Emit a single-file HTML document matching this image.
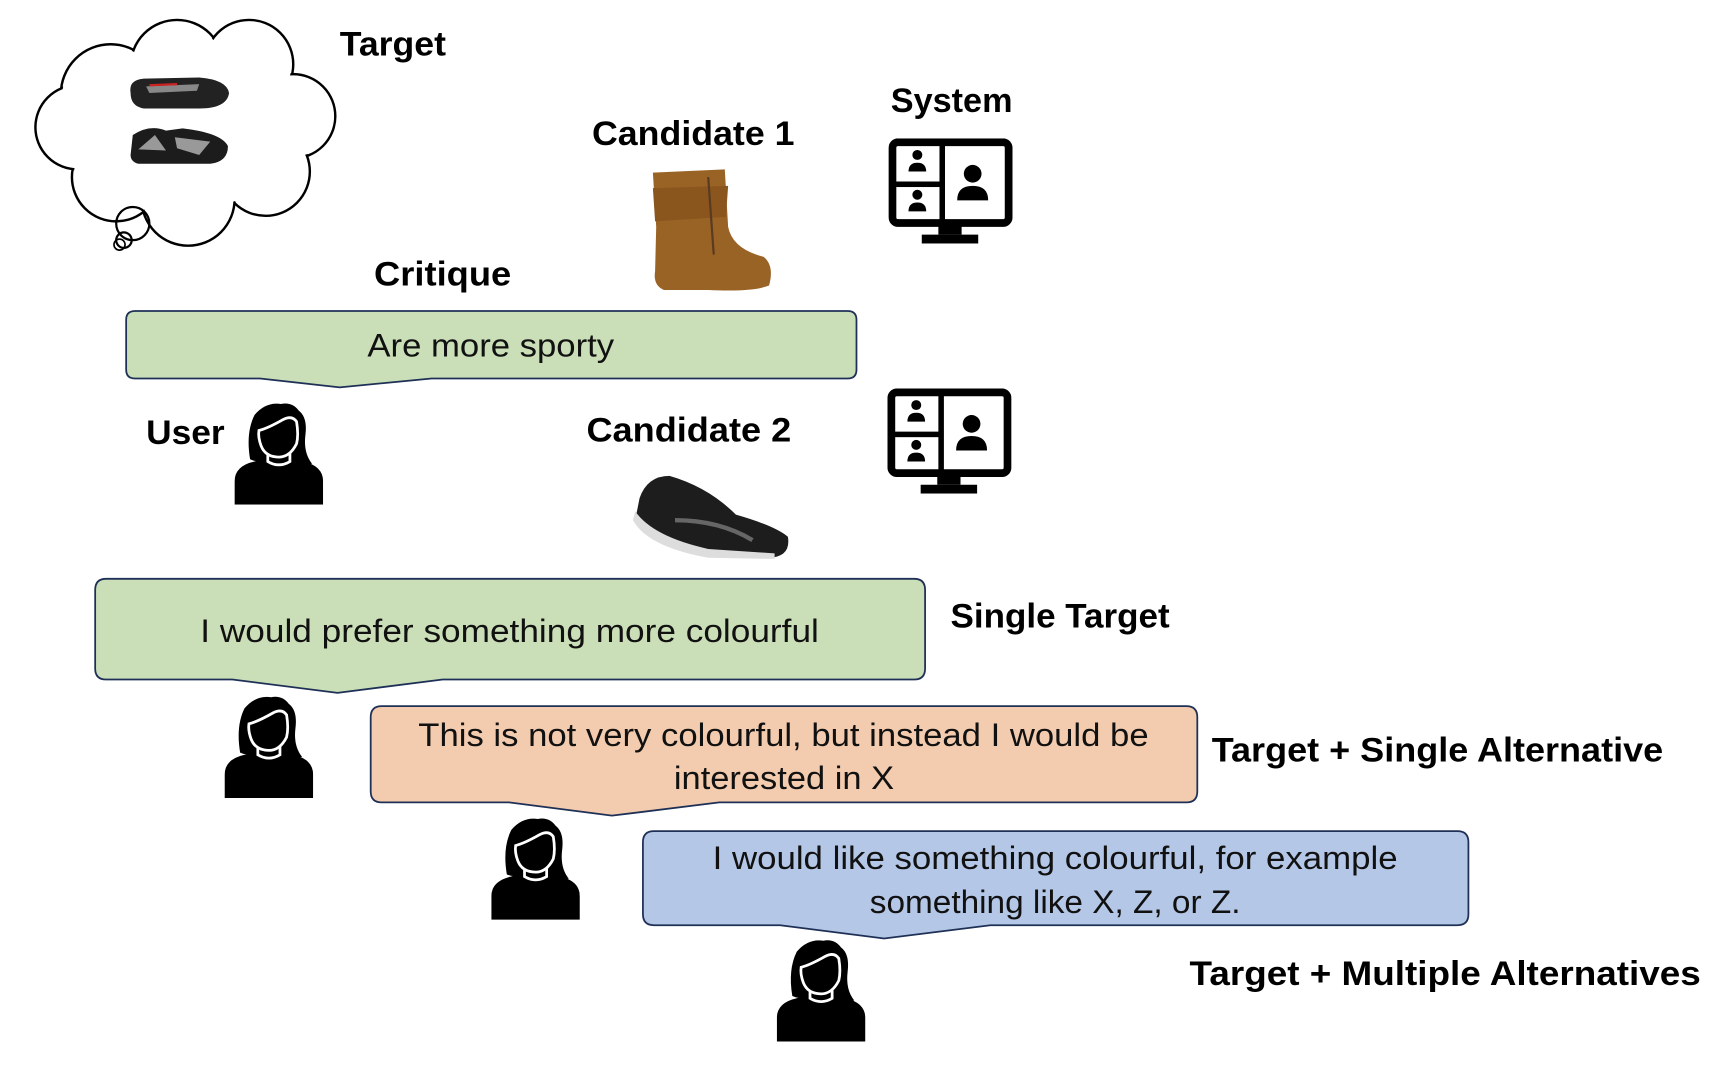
<!DOCTYPE html>
<html><head><meta charset="utf-8"><style>
html,body{margin:0;padding:0;background:#fff;width:1734px;height:1068px;overflow:hidden}
svg{display:block}
.b{font-family:"Liberation Sans",sans-serif;font-weight:bold;font-size:31px;fill:#000}
.t{font-family:"Liberation Sans",sans-serif;font-size:29px;fill:#111}
</style></head><body>
<svg width="1734" height="1068" viewBox="0 0 1567 965" preserveAspectRatio="none" xmlns="http://www.w3.org/2000/svg">
<defs>
<symbol id="p" viewBox="0 0 80 93">
  <path d="M0,93 L0,72 Q0,58 18,54 L30,50 L50,50 L62,54 Q80,58 80,72 L80,93 Z" fill="#000"/>
  <path d="M14,52 Q10,28 18,12 Q28,0 42,2 Q52,0 58,8 Q66,14 64,30 Q62,46 70,56 Q58,58 50,50 L30,50 Q22,56 14,52 Z" fill="#000"/>
  <path d="M30,46 L30,54 Q40,60 50,54 L50,46 Z" fill="#000" stroke="#fff" stroke-width="2.5"/>
  <path d="M22,26 Q30,24 44,16 Q52,12 56,18 Q58,30 56,38 Q50,50 40,50 Q28,50 24,40 Q21,32 22,26 Z" fill="#000" stroke="#fff" stroke-width="2.5"/>
</symbol>
<symbol id="m" viewBox="0 0 112 95">
  <rect x="3.5" y="3.5" width="105" height="73" rx="5" fill="#fff" stroke="#000" stroke-width="7"/>
  <rect x="46" y="4" width="5" height="72" fill="#000"/>
  <rect x="4" y="39" width="44" height="5" fill="#000"/>
  <rect x="45" y="78" width="21" height="9" fill="#000"/>
  <rect x="30" y="87" width="51" height="8" fill="#000"/>
  <circle cx="26" cy="15" r="4.5" fill="#000"/><path d="M18,30 Q18,22 26,22 Q34,22 34,30 Z" fill="#000"/>
  <circle cx="26" cy="51" r="4.5" fill="#000"/><path d="M18,66 Q18,58 26,58 Q34,58 34,66 Z" fill="#000"/>
  <circle cx="76" cy="32" r="8" fill="#000"/><path d="M62,56 Q62,43 76,43 Q90,43 90,56 Z" fill="#000"/>
</symbol>
</defs>

<!-- cloud -->
<g stroke="#000" stroke-width="2.2" fill="#fff">
  <circle cx="100" cy="85" r="45"/><circle cx="160" cy="60" r="42"/><circle cx="225" cy="58" r="40"/>
  <circle cx="265" cy="105" r="38"/><circle cx="240" cy="155" r="40"/><circle cx="170" cy="180" r="42"/>
  <circle cx="105" cy="160" r="40"/><circle cx="70" cy="115" r="38"/>
</g>
<g fill="#fff">
  <circle cx="100" cy="85" r="43.5"/><circle cx="160" cy="60" r="40.5"/><circle cx="225" cy="58" r="38.5"/>
  <circle cx="265" cy="105" r="36.5"/><circle cx="240" cy="155" r="38.5"/><circle cx="170" cy="180" r="40.5"/>
  <circle cx="105" cy="160" r="38.5"/><circle cx="70" cy="115" r="36.5"/><ellipse cx="167" cy="118" rx="110" ry="70"/>
</g>
<circle cx="120" cy="202" r="15" fill="none" stroke="#000" stroke-width="2"/>
<circle cx="112" cy="217" r="7" fill="none" stroke="#000" stroke-width="2"/>
<circle cx="108" cy="221" r="5" fill="none" stroke="#000" stroke-width="1.5"/>

<!-- target shoes -->
<path d="M118,84 Q116,72 130,71 L180,70 Q205,72 207,84 Q205,98 180,98 L130,98 Q118,96 118,84 Z" fill="#222"/>
<path d="M132,78 L180,76 L178,82 L135,84 Z" fill="#888"/><path d="M135,77 L160,76" stroke="#c22" stroke-width="2"/>
<path d="M118,140 L120,122 Q135,112 150,118 L165,116 Q200,120 206,132 Q206,146 190,148 L125,148 Q118,146 118,140 Z" fill="#1c1c1c"/>
<path d="M125,135 L140,122 L150,136 Z M158,124 L190,128 L180,140 L160,134 Z" fill="#999"/>

<!-- boot -->
<path d="M590,156 L655,153 L658,205 Q662,225 690,232 Q700,240 695,258 Q680,264 640,262 L600,262 Q590,258 592,245 L593,205 Z" fill="#9a6326"/>
<path d="M590,170 L658,168 L656,196 L592,200 Z" fill="#8a561e"/>
<path d="M640,160 L645,230" stroke="#5a3a20" stroke-width="2"/>

<!-- sneaker -->
<path d="M578,450 Q585,430 605,430 Q640,440 665,465 Q700,475 712,485 Q715,503 695,504 L640,502 Q590,490 574,470 Z" fill="#1d1d1d"/>
<path d="M574,462 Q590,485 640,496 L700,500 L700,505 L640,504 Q585,494 572,470 Z" fill="#ddd"/>
<path d="M610,470 Q650,470 680,488" stroke="#666" stroke-width="4" fill="none"/>

<!-- monitors -->
<use href="#m" x="803" y="125" width="112" height="95"/>
<use href="#m" x="802" y="351" width="112" height="95"/>

<!-- persons -->
<use href="#p" x="212" y="363" width="80" height="93"/>
<use href="#p" x="203" y="628" width="80" height="93"/>
<use href="#p" x="444" y="738" width="80" height="93"/>
<use href="#p" x="702" y="848" width="80" height="93"/>

<!-- boxes -->
<g stroke="#1f3057" stroke-width="1.6">
<path d="M122,281 H766 Q774,281 774,289 V334 Q774,342 766,342 H390 L307,350 L235,342 H122 Q114,342 114,334 V289 Q114,281 122,281 Z" fill="#cadfb8"/>
<path d="M96,523 H826 Q836,523 836,533 V604 Q836,614 826,614 H400 L305,626 L210,614 H96 Q86,614 86,604 V533 Q86,523 96,523 Z" fill="#cadfb8"/>
<path d="M345,638 H1072 Q1082,638 1082,648 V715 Q1082,725 1072,725 H650 L553,737 L460,725 H345 Q335,725 335,715 V648 Q335,638 345,638 Z" fill="#f3cbae"/>
<path d="M591,751 H1317 Q1327,751 1327,761 V826 Q1327,836 1317,836 H895 L799,848 L705,836 H591 Q581,836 581,826 V761 Q581,751 591,751 Z" fill="#b5c7e6"/>
</g>

<!-- box text -->
<text class="t" x="332" y="322" textLength="223" lengthAdjust="spacingAndGlyphs">Are more sporty</text>
<text class="t" x="181" y="580" textLength="559" lengthAdjust="spacingAndGlyphs">I would prefer something more colourful</text>
<text class="t" x="378" y="674" textLength="660" lengthAdjust="spacingAndGlyphs">This is not very colourful, but instead I would be</text>
<text class="t" x="609" y="713" textLength="199" lengthAdjust="spacingAndGlyphs">interested in X</text>
<text class="t" x="644" y="785" textLength="619" lengthAdjust="spacingAndGlyphs">I would like something colourful, for example</text>
<text class="t" x="786" y="825" textLength="335" lengthAdjust="spacingAndGlyphs">something like X, Z, or Z.</text>

<!-- labels -->
<text class="b" x="307" y="50" textLength="96" lengthAdjust="spacingAndGlyphs">Target</text>
<text class="b" x="535" y="131" textLength="183" lengthAdjust="spacingAndGlyphs">Candidate 1</text>
<text class="b" x="805" y="101" textLength="110" lengthAdjust="spacingAndGlyphs">System</text>
<text class="b" x="338" y="258" textLength="124" lengthAdjust="spacingAndGlyphs">Critique</text>
<text class="b" x="132" y="401" textLength="71" lengthAdjust="spacingAndGlyphs">User</text>
<text class="b" x="530" y="399" textLength="185" lengthAdjust="spacingAndGlyphs">Candidate 2</text>
<text class="b" x="859" y="567" textLength="198" lengthAdjust="spacingAndGlyphs">Single Target</text>
<text class="b" x="1095" y="688" textLength="408" lengthAdjust="spacingAndGlyphs">Target + Single Alternative</text>
<text class="b" x="1075" y="890" textLength="462" lengthAdjust="spacingAndGlyphs">Target + Multiple Alternatives</text>
</svg>
</body></html>
